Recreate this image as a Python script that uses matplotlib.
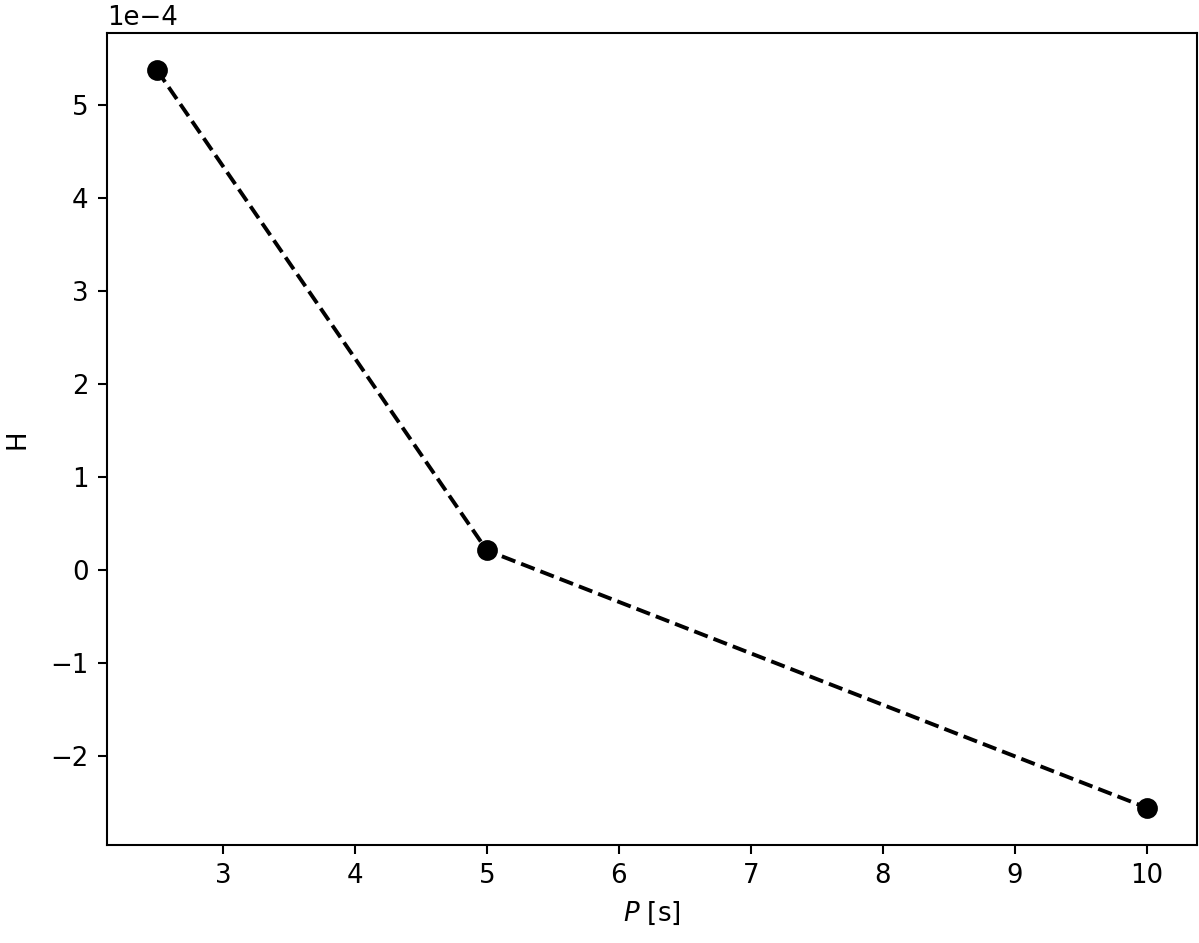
import matplotlib
matplotlib.use("Agg")
import matplotlib.pyplot as plt

# Period [s] and H values (scaled by 1e-4 via offset text)
periods = [2.5, 5.0, 10.0]
h_values = [5.38e-4, 0.21e-4, -2.56e-4]

fig, ax = plt.subplots(figsize=(6.417, 5.043), dpi=187)
fig.subplots_adjust(left=0.089, right=0.9975, top=0.965, bottom=0.104)

ax.plot(periods, h_values, "k--o", markersize=7)

ax.set_xlabel(r"$P$ [s]")
ax.set_ylabel("H")
ax.yaxis.set_label_coords(-0.07, 0.5)
ax.ticklabel_format(axis="y", style="sci", scilimits=(0, 0))

ax.set_xlim(2.12, 10.38)
ax.set_ylim(-2.96e-4, 5.78e-4)

fig.savefig("out.png", dpi=187)
